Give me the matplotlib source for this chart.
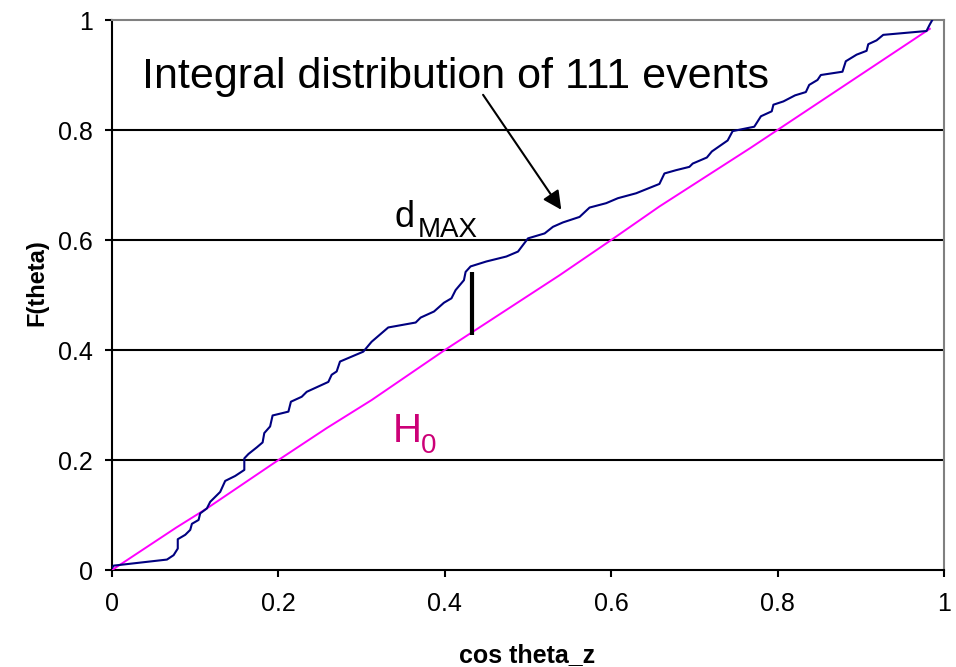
import numpy as np
import matplotlib
matplotlib.use("Agg")
import matplotlib.pyplot as plt

plt.rcParams['font.family'] = ['Liberation Sans', 'DejaVu Sans']

# integral distribution of the events
cdf_x = [0.0, 0.002, 0.066, 0.074, 0.079, 0.079, 0.088, 0.094, 0.096, 0.104,
         0.106, 0.114, 0.118, 0.124, 0.130, 0.136, 0.148, 0.159, 0.159, 0.164,
         0.174, 0.181, 0.183, 0.190, 0.193, 0.204, 0.212, 0.215, 0.228, 0.234,
         0.260, 0.264, 0.270, 0.274, 0.302, 0.312, 0.332, 0.365, 0.371, 0.387,
         0.399, 0.408, 0.413, 0.423, 0.425, 0.431, 0.450, 0.474, 0.488, 0.500,
         0.520, 0.530, 0.542, 0.562, 0.574, 0.594, 0.608, 0.630, 0.658, 0.664,
         0.678, 0.694, 0.698, 0.715, 0.721, 0.740, 0.746, 0.772, 0.780, 0.793,
         0.795, 0.807, 0.821, 0.834, 0.838, 0.848, 0.852, 0.878, 0.882, 0.895,
         0.907, 0.909, 0.919, 0.927, 0.979, 0.983, 0.986]
cdf_y = [0.004, 0.008, 0.019, 0.027, 0.039, 0.056, 0.064, 0.073, 0.084, 0.091,
         0.103, 0.112, 0.124, 0.133, 0.142, 0.162, 0.171, 0.182, 0.203, 0.211,
         0.223, 0.232, 0.249, 0.261, 0.281, 0.285, 0.288, 0.306, 0.315, 0.324,
         0.342, 0.355, 0.361, 0.379, 0.397, 0.415, 0.441, 0.450, 0.459, 0.470,
         0.486, 0.494, 0.509, 0.527, 0.542, 0.552, 0.561, 0.570, 0.579, 0.603,
         0.612, 0.624, 0.632, 0.642, 0.659, 0.667, 0.676, 0.685, 0.702, 0.721,
         0.727, 0.733, 0.739, 0.750, 0.761, 0.781, 0.798, 0.806, 0.825, 0.834,
         0.846, 0.852, 0.863, 0.869, 0.882, 0.891, 0.900, 0.906, 0.925, 0.937,
         0.944, 0.956, 0.963, 0.973, 0.980, 0.992, 1.0]

# H0 (uniform) expectation
h0_x = [0.0, 0.077, 0.114, 0.200, 0.258, 0.312, 0.400, 0.538, 0.600, 0.658, 0.767, 0.983]
h0_y = [0.0, 0.077, 0.112, 0.200, 0.258, 0.309, 0.400, 0.536, 0.600, 0.661, 0.767, 0.984]

# d_MAX marker
dmax_x = 0.433
dmax_lo, dmax_hi = 0.427, 0.542

ticks = [0, 0.2, 0.4, 0.6, 0.8, 1]
tick_labels = ["0", "0.2", "0.4", "0.6", "0.8", "1"]

fig = plt.figure(figsize=(9.56, 6.67), dpi=100)
ax = fig.add_axes([0.1172, 0.1454, 0.8702, 0.8246])

for yv in ticks[1:-1]:
    ax.axhline(yv, color='black', lw=1.5, zorder=1)

ax.plot(h0_x, h0_y, color='#FF00FF', lw=1.4, zorder=3)
ax.plot(cdf_x, cdf_y, color='#000080', lw=1.5, zorder=4)
ax.plot([dmax_x, dmax_x], [dmax_lo, dmax_hi], color='black', lw=3, zorder=5,
        solid_capstyle='butt')

ax.set_xlim(0, 1)
ax.set_ylim(0, 1)
ax.set_xticks(ticks)
ax.set_xticklabels(tick_labels)
ax.set_yticks(ticks)
ax.set_yticklabels(tick_labels)
ax.tick_params(axis='x', direction='out', length=5, width=1.5, labelsize=18, pad=11)
ax.tick_params(axis='y', direction='out', length=5, width=1.5, labelsize=18, pad=9)

for s in ['left', 'bottom']:
    ax.spines[s].set_color('black')
    ax.spines[s].set_linewidth(1.5)
for s in ['top', 'right']:
    ax.spines[s].set_color('#808080')
    ax.spines[s].set_linewidth(1.5)

ax.text(0.036, 0.876, "Integral distribution of 111 events", fontsize=31,
        ha='left', va='baseline')
ax.annotate("", xy=(0.540, 0.655), xytext=(0.446, 0.864),
            arrowprops=dict(arrowstyle='-|>', color='black', lw=1.5,
                            mutation_scale=28, shrinkA=0, shrinkB=0))

ax.text(0.339, 0.624, "d", fontsize=26, ha='left', va='baseline')
ax.text(0.368, 0.605, "MAX", fontsize=20, ha='left', va='baseline')
ax.text(0.337, 0.233, "H", fontsize=29, ha='left', va='baseline', color='#CC0077')
ax.text(0.371, 0.212, "0", fontsize=20, ha='left', va='baseline', color='#CC0077')

fig.text(0.0387, 0.576, "F(theta)", fontsize=17, fontweight='bold',
         rotation=90, ha='center', va='center')
fig.text(0.551, 0.018, "cos theta_z", fontsize=18, fontweight='bold',
         ha='center', va='center')

fig.savefig("out.png", dpi=100)
